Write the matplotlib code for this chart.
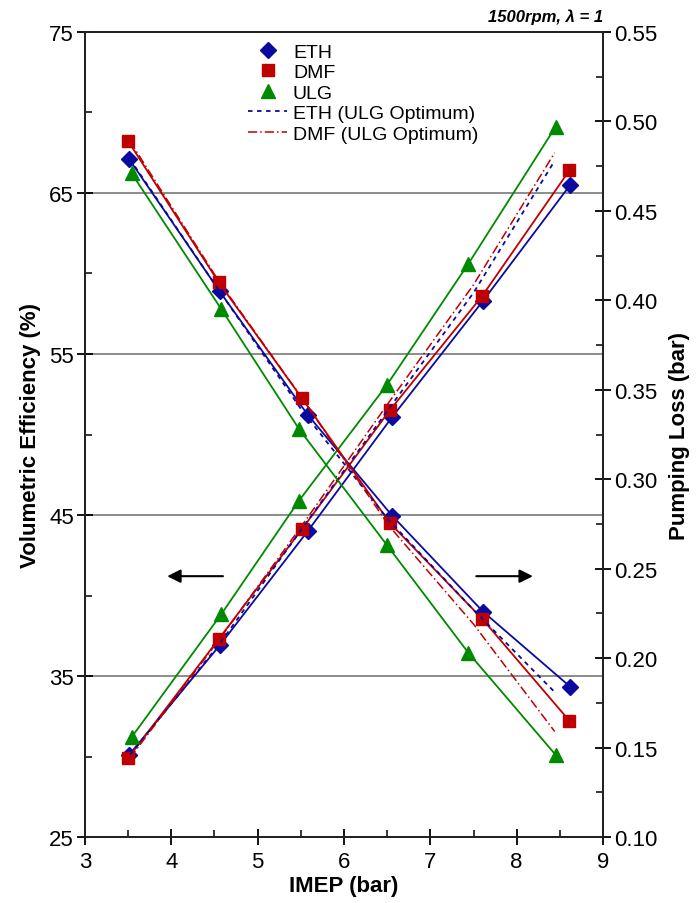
import matplotlib
matplotlib.use('Agg')
import matplotlib.pyplot as plt
from matplotlib.ticker import MultipleLocator, FormatStrFormatter
from matplotlib.lines import Line2D

plt.rcParams['font.family'] = ['Liberation Sans', 'DejaVu Sans']

# IMEP (bar) for each fuel
imep_eth = [3.51, 4.56, 5.58, 6.56, 7.61, 8.62]
imep_dmf = [3.50, 4.55, 5.51, 6.53, 7.60, 8.61]
imep_ulg = [3.54, 4.58, 5.48, 6.50, 7.44, 8.45]
imep_opt = [3.52, 4.56, 5.52, 6.52, 7.50, 8.44]

# volumetric efficiency (%)
ve_eth = [30.1, 36.9, 44.0, 51.1, 58.3, 65.5]
ve_dmf = [29.9, 37.3, 44.1, 51.5, 58.6, 66.4]
ve_ulg = [31.2, 38.85, 45.9, 53.1, 60.6, 69.1]
ve_eth_opt = [30.1, 37.0, 44.2, 51.6, 58.8, 67.0]
ve_dmf_opt = [29.9, 37.3, 44.4, 52.0, 59.3, 67.5]

# pumping loss (bar)
pl_eth = [0.479, 0.405, 0.336, 0.2795, 0.226, 0.184]
pl_dmf = [0.489, 0.410, 0.3455, 0.2756, 0.222, 0.165]
pl_ulg = [0.471, 0.395, 0.328, 0.263, 0.203, 0.146]
pl_eth_opt = [0.479, 0.405, 0.338, 0.277, 0.227, 0.181]
pl_dmf_opt = [0.489, 0.410, 0.345, 0.274, 0.219, 0.159]

c_eth = '#0a0aa0'
c_dmf = '#c00000'
c_ulg = '#008a00'
ls_eth_opt = (0, (2.5, 2.5))
ls_dmf_opt = (0, (6, 2, 1, 2))

fig = plt.figure(figsize=(6.96, 9.04), dpi=100)
ax = fig.add_axes([0.1221, 0.0730, 0.7443, 0.8905])
ax2 = ax.twinx()

for yv in [35, 45, 55, 65]:
    ax.axhline(yv, color='#8c8c8c', lw=1.4, zorder=0)

# volumetric efficiency (left axis)
ax.plot(imep_eth, ve_eth, color=c_eth, lw=1.3, marker='D', ms=8.5)
ax.plot(imep_dmf, ve_dmf, color=c_dmf, lw=1.3, marker='s', ms=8.5)
ax.plot(imep_ulg, ve_ulg, color=c_ulg, lw=1.3, marker='^', ms=9.5)
ax.plot(imep_opt, ve_eth_opt, color=c_eth, lw=1.3, ls=ls_eth_opt)
ax.plot(imep_opt, ve_dmf_opt, color=c_dmf, lw=1.1, ls=ls_dmf_opt)

# pumping loss (right axis)
ax2.plot(imep_eth, pl_eth, color=c_eth, lw=1.3, marker='D', ms=8.5)
ax2.plot(imep_dmf, pl_dmf, color=c_dmf, lw=1.3, marker='s', ms=8.5)
ax2.plot(imep_ulg, pl_ulg, color=c_ulg, lw=1.3, marker='^', ms=9.5)
ax2.plot(imep_opt, pl_eth_opt, color=c_eth, lw=1.3, ls=ls_eth_opt)
ax2.plot(imep_opt, pl_dmf_opt, color=c_dmf, lw=1.1, ls=ls_dmf_opt)

ax.set_xlim(3, 9)
ax.set_ylim(25, 75)
ax2.set_ylim(0.10, 0.55)

ax.xaxis.set_major_locator(MultipleLocator(1))
ax.xaxis.set_minor_locator(MultipleLocator(0.5))
ax.set_yticks([25, 35, 45, 55, 65, 75])
ax.yaxis.set_minor_locator(MultipleLocator(5))
ax2.yaxis.set_major_locator(MultipleLocator(0.05))
ax2.yaxis.set_minor_locator(MultipleLocator(0.025))
ax2.yaxis.set_major_formatter(FormatStrFormatter('%.2f'))

ax.tick_params(which='major', direction='inout', length=12, width=1.3, labelsize=16, pad=2)
ax.tick_params(which='minor', direction='in', length=5, width=1.1)
ax.tick_params(axis='x', which='major', pad=4)
ax2.tick_params(which='major', direction='inout', length=12, width=1.3, labelsize=16, pad=2)
ax2.tick_params(which='minor', direction='in', length=5, width=1.1)

for a in (ax, ax2):
    for s in a.spines.values():
        s.set_linewidth(1.4)
        s.set_color('#222222')

ax.set_xlabel('IMEP (bar)', fontsize=16, fontweight='bold', labelpad=2)
ax.set_ylabel('Volumetric Efficiency (%)', fontsize=16, fontweight='bold', labelpad=6)
ax2.set_ylabel('Pumping Loss (bar)', fontsize=16, fontweight='bold', labelpad=8)

ax.text(1.0, 1.01, '1500rpm, \u03bb = 1', transform=ax.transAxes, ha='right', va='bottom',
        fontsize=12, fontweight='bold', fontstyle='italic')

# direction arrows
ax.annotate('', xy=(3.92, 41.2), xytext=(4.63, 41.2),
            arrowprops=dict(arrowstyle='-|>', color='black', lw=1.5, mutation_scale=20))
ax.annotate('', xy=(8.22, 41.2), xytext=(7.5, 41.2),
            arrowprops=dict(arrowstyle='-|>', color='black', lw=1.5, mutation_scale=20))

handles = [
    Line2D([], [], color=c_eth, marker='D', ls='none', ms=8.5),
    Line2D([], [], color=c_dmf, marker='s', ls='none', ms=8.5),
    Line2D([], [], color=c_ulg, marker='^', ls='none', ms=9.5),
    Line2D([], [], color=c_eth, lw=1.3, ls=ls_eth_opt),
    Line2D([], [], color=c_dmf, lw=1.1, ls=ls_dmf_opt),
]
labels = ['ETH', 'DMF', 'ULG', 'ETH (ULG Optimum)', 'DMF (ULG Optimum)']
ax2.legend(handles, labels, loc='upper left', bbox_to_anchor=(0.30, 0.996),
           frameon=False, fontsize=14, handlelength=2.0, handletextpad=0.3,
           labelspacing=0.15, borderaxespad=0)

fig.savefig('out.png', dpi=100)
